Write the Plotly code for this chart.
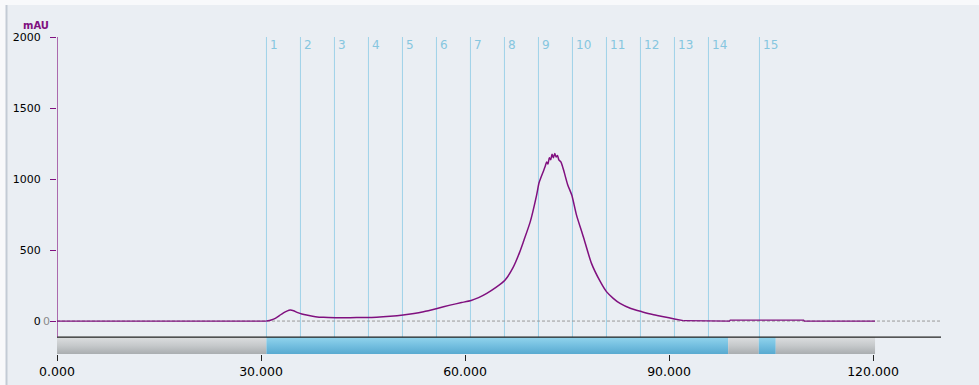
import plotly.graph_objects as go

# Chromatogram: UV absorbance (mAU) against run volume
run_volume = [0, 30.8, 31.5, 32.1, 32.7, 33.3, 33.8, 34.3, 34.8, 35.3, 36.0, 36.7,
              38.0, 39.2, 41.0, 43.1, 45.0, 47.0, 49.0, 50.9, 52.5, 53.9, 55.9,
              57.8, 59.5, 60.9, 62.0, 63.2, 64.5, 65.9, 67.1, 68.0, 68.6, 69.6,
              70.5, 70.9, 71.5, 71.8, 72.0, 72.2, 72.4, 72.6, 72.8, 73.0, 73.2,
              73.4, 73.6, 73.8, 74.1, 74.5, 75.1, 75.7, 76.4, 77.4, 78.6, 79.9,
              80.8, 81.8, 82.8, 84.3, 86.0, 87.6, 89.2, 90.8, 92.1, 98.9, 99.0,
              109.8, 109.9, 120.3]
absorbance = [0, 0, 8, 19, 38, 58, 70, 77, 72, 61, 50, 42,
              31, 26, 24, 24, 25, 27, 33, 42, 53, 66, 89,
              112, 130, 145, 165, 195, 235, 289, 380, 480, 560, 700,
              880, 975, 1052, 1090, 1120, 1105, 1150, 1135, 1175, 1150, 1180,
              1155, 1165, 1135, 1120, 1063, 960, 887, 746, 594, 406, 277,
              207, 160, 124, 90, 66, 46, 31, 15, 3, 0, 7,
              7, 0, 0]

# Fraction marks
fraction_start = [30.8, 35.8, 40.8, 45.8, 50.8, 55.8, 60.8, 65.8, 70.8, 75.8,
                  80.8, 85.8, 90.8, 95.8, 103.3]
fraction_label = [str(i) for i in range(1, 16)]

# Collection bar segments
segment_start = [0, 30.8, 98.7, 103.2, 105.7]
segment_end = [30.8, 98.7, 103.2, 105.7, 120.3]
segment_kind = ["waste", "collect", "waste", "collect", "waste"]

x_ticks = [0, 30, 60, 90, 120]
x_tick_text = ["0.000", "30.000", "60.000", "90.000", "120.000"]
y_ticks = [0, 500, 1000, 1500, 2000]
y_tick_text = ["0", "500", "1000", "1500", "2000"]

X_MAX = 130
Y_MIN, Y_MAX = -232, 2000
AXIS_Y = -113          # level of the black run axis above the bar
BAR_BOTTOM = Y_MIN

PURPLE = "#80107f"
FRAC_BLUE = "#9fd2e8"
FRAC_TEXT = "#86c6df"
BG = "#eaeef3"
FONT = "DejaVu Sans"

gradients = {
    "waste": [[0, "#a9adb0"], [0.5, "#c6c9cb"], [1, "#dcdee0"]],
    "collect": [[0, "#58aad0"], [0.5, "#74bfe0"], [1, "#92d4ec"]],
}

fig = go.Figure()

# collection bar
for x0, x1, kind in zip(segment_start, segment_end, segment_kind):
    fig.add_trace(go.Scatter(
        x=[x0, x1, x1, x0, x0],
        y=[BAR_BOTTOM, BAR_BOTTOM, AXIS_Y, AXIS_Y, BAR_BOTTOM],
        mode="lines", fill="toself", line=dict(width=0),
        fillgradient=dict(type="vertical", colorscale=gradients[kind]),
        hoverinfo="skip", showlegend=False,
    ))

# dashed zero baseline
fig.add_trace(go.Scatter(
    x=[0, X_MAX], y=[0, 0], mode="lines",
    line=dict(color="#9a9a9a", width=1, dash="3px,2px"),
    hoverinfo="skip", showlegend=False,
))

# absorbance trace: smooth through the elution, straight on the flat baseline parts
i_start = run_volume.index(30.8)
i_end = run_volume.index(92.1)
pieces = [
    (run_volume[:i_start + 1], absorbance[:i_start + 1], "linear", 1.2),
    (run_volume[i_start:i_end + 1], absorbance[i_start:i_end + 1], "spline", 1.5),
    (run_volume[i_end:], absorbance[i_end:], "linear", 1.2),
]
for xs, ys, shape, w in pieces:
    fig.add_trace(go.Scatter(
        x=xs, y=ys, mode="lines",
        line=dict(color=PURPLE, width=w, shape=shape, smoothing=0.6),
        showlegend=False,
    ))

shapes = []
# fraction lines
for pos in fraction_start:
    shapes.append(dict(type="line", xref="x", yref="y", x0=pos, x1=pos,
                       y0=AXIS_Y, y1=Y_MAX, line=dict(color=FRAC_BLUE, width=1),
                       layer="below"))
# panel background with left border
shapes.append(dict(type="rect", xref="paper", yref="paper",
                   x0=(6 - 57) / 884, x1=(979 - 57) / 884,
                   y0=(354 - 385) / 317, y1=(354 - 5) / 317,
                   fillcolor=BG, line=dict(width=0), layer="below"))
shapes.append(dict(type="line", xref="paper", yref="paper",
                   x0=(6.5 - 57) / 884, x1=(6.5 - 57) / 884,
                   y0=(354 - 385) / 317, y1=(354 - 5) / 317,
                   line=dict(color="#c3cbd5", width=2), layer="below"))
# run axis and absorbance axis lines
shapes.append(dict(type="line", xref="x", yref="y", x0=0, x1=X_MAX,
                   y0=AXIS_Y, y1=AXIS_Y, line=dict(color="#222222", width=1.2)))
shapes.append(dict(type="line", xref="x", yref="y", x0=0, x1=0,
                   y0=AXIS_Y, y1=Y_MAX, line=dict(color=PURPLE, width=1.2)))

annotations = []
for pos, lab in zip(fraction_start, fraction_label):
    annotations.append(dict(x=pos, y=1943, xref="x", yref="y", text=lab,
                            showarrow=False, xanchor="left", yanchor="middle",
                            xshift=2, font=dict(family=FONT, size=12, color=FRAC_TEXT)))
annotations.append(dict(x=0, y=Y_MAX, xref="x", yref="y", text="<b>mAU</b>",
                        showarrow=False, xanchor="right", yanchor="middle",
                        xshift=-6, yshift=12,
                        font=dict(family=FONT, size=10, color=PURPLE)))
annotations.append(dict(x=0, y=0, xref="x", yref="y", text="0",
                        showarrow=False, xanchor="right", yanchor="middle",
                        xshift=-5, font=dict(family=FONT, size=11, color="#8a8a8a")))

fig.update_layout(
    width=979, height=385, autosize=False,
    margin=dict(l=57, r=38, t=37, b=31, pad=0),
    paper_bgcolor="#f8f9fb", plot_bgcolor=BG,
    shapes=shapes, annotations=annotations,
    font=dict(family=FONT, color="#000000"),
    xaxis=dict(range=[0, X_MAX], tickvals=x_ticks, ticktext=x_tick_text,
               ticks="outside", ticklen=6, tickcolor="#222222", tickwidth=1.2,
               showline=False, showgrid=False, zeroline=False, automargin=False,
               tickfont=dict(family=FONT, size=12.5, color="#000000")),
    yaxis=dict(range=[Y_MIN, Y_MAX], tickvals=y_ticks, ticktext=y_tick_text,
               ticks="outside", ticklen=6, tickcolor=PURPLE, tickwidth=1.2,
               showline=False, showgrid=False, zeroline=False, automargin=False,
               ticklabelstandoff=7,
               tickfont=dict(family=FONT, size=11, color="#000000")),
)

fig.write_html("out.html")
